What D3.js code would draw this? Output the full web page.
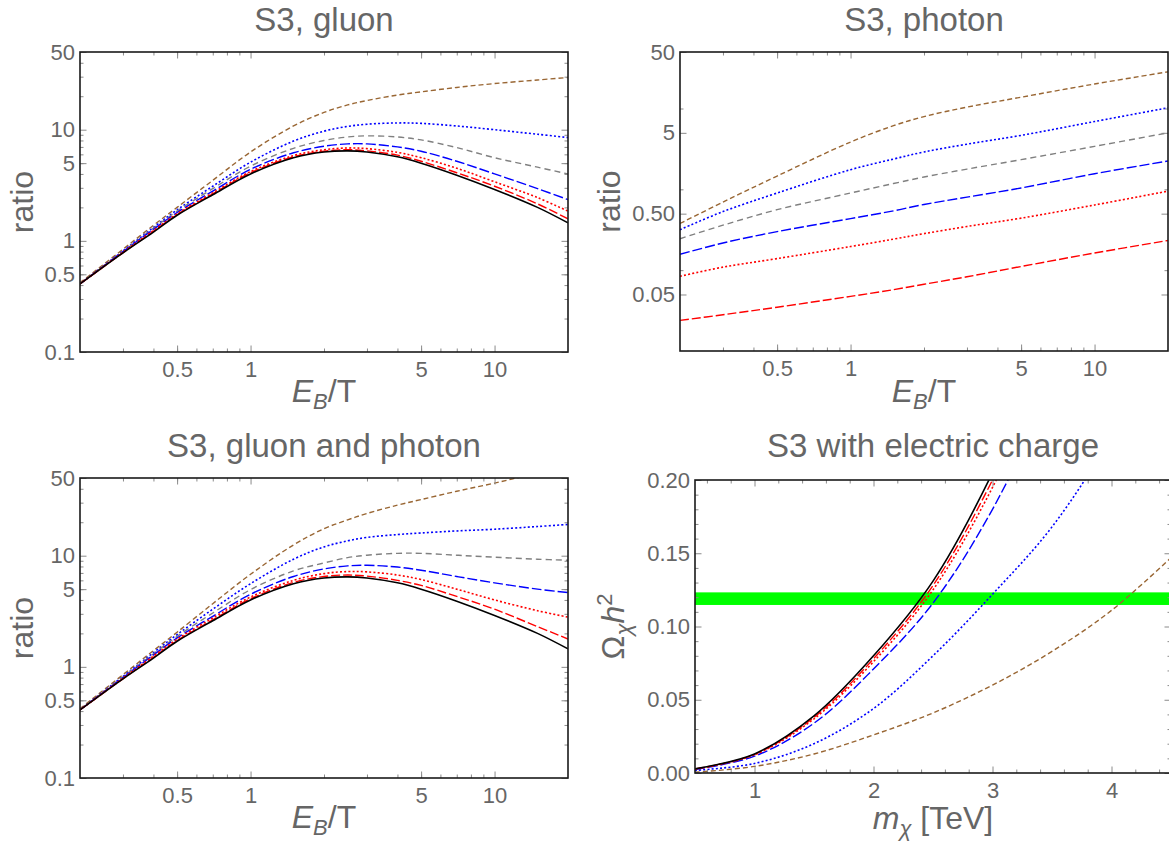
<!doctype html>
<html lang="en">
  <head>
    <meta charset="utf-8">
    <title>S3 ratio plots</title>
    <style>
      body{margin:0;background:#fff;}
    </style>
  </head>
  <body>
    <script src="https://cdn.jsdelivr.net/npm/d3@7"></script>
    <script>

    // ---- data ----

    // E_B/T grid for the gluon panels
    var ebGrid = [0.2, 0.3, 0.4, 0.5, 0.7, 1, 1.5, 2, 2.5, 3, 4, 5, 7, 10, 15, 20];

    // S3, gluon
    var gluonBlack      = [0.41, 0.78, 1.2, 1.7, 2.6, 4.0, 5.6, 6.3, 6.45, 6.3, 5.7, 5.0, 3.9, 2.9, 2.0, 1.45];
    var gluonRedDashed  = [0.41, 0.78, 1.22, 1.72, 2.65, 4.1, 5.7, 6.4, 6.6, 6.45, 5.9, 5.2, 4.1, 3.1, 2.15, 1.58];
    var gluonRedDotted  = [0.41, 0.79, 1.24, 1.75, 2.7, 4.2, 5.85, 6.6, 6.85, 6.75, 6.25, 5.6, 4.5, 3.4, 2.45, 1.85];
    var gluonBlueDashed = [0.41, 0.8, 1.27, 1.8, 2.8, 4.4, 6.2, 7.1, 7.45, 7.45, 7.0, 6.4, 5.2, 4.0, 2.95, 2.35];
    var gluonGray       = [0.41, 0.8, 1.3, 1.85, 2.95, 4.7, 6.8, 8.0, 8.6, 8.8, 8.6, 8.1, 6.9, 5.6, 4.6, 4.0];
    var gluonBlueDotted = [0.41, 0.81, 1.32, 1.9, 3.1, 5.1, 7.9, 9.7, 10.7, 11.2, 11.5, 11.4, 10.8, 10.0, 9.1, 8.5];
    var gluonBrown      = [0.42, 0.84, 1.38, 2.0, 3.5, 6.3, 10.8, 14.3, 16.7, 18.3, 20.5, 21.9, 24.0, 26.0, 28.0, 29.5];

    // S3, gluon and photon
    var bothBlack      = [0.41, 0.78, 1.2, 1.7, 2.6, 4.0, 5.6, 6.3, 6.45, 6.3, 5.7, 5.0, 3.9, 2.9, 2.0, 1.45];
    var bothRedDashed  = [0.41, 0.78, 1.22, 1.72, 2.65, 4.1, 5.75, 6.5, 6.7, 6.55, 6.0, 5.4, 4.3, 3.3, 2.3, 1.78];
    var bothRedDotted  = [0.41, 0.79, 1.25, 1.77, 2.75, 4.25, 6.0, 6.9, 7.2, 7.15, 6.7, 6.1, 5.0, 4.0, 3.2, 2.8];
    var bothBlueDashed = [0.41, 0.8, 1.28, 1.82, 2.85, 4.5, 6.5, 7.6, 8.1, 8.2, 7.9, 7.4, 6.5, 5.7, 5.0, 4.66];
    var bothGray       = [0.41, 0.81, 1.31, 1.88, 3.05, 4.95, 7.3, 8.6, 9.6, 10.1, 10.5, 10.5, 10.1, 9.7, 9.3, 9.1];
    var bothBlueDotted = [0.41, 0.82, 1.34, 1.95, 3.3, 5.6, 9.3, 12.0, 13.6, 14.6, 15.5, 16.0, 16.7, 17.3, 18.3, 19.1];
    var bothBrown      = [0.42, 0.85, 1.4, 2.05, 3.7, 6.8, 12.5, 17.5, 21, 24, 28.5, 32, 38, 45, 55, 60];

    // S3, photon
    var photonGrid       = [0.2, 0.3, 0.5, 1, 1.5, 2, 3, 5, 10, 20];
    var photonRedDashed  = [0.0239, 0.0281, 0.0348, 0.0474, 0.0574, 0.067, 0.0828, 0.111, 0.163, 0.233];
    var photonRedDotted  = [0.084, 0.109, 0.139, 0.196, 0.242, 0.283, 0.347, 0.44, 0.64, 0.95];
    var photonBlueDashed = [0.157, 0.217, 0.30, 0.434, 0.542, 0.65, 0.80, 1.04, 1.56, 2.24];
    var photonGray       = [0.245, 0.36, 0.56, 0.90, 1.18, 1.42, 1.78, 2.33, 3.4, 5.0];
    var photonBlueDotted = [0.317, 0.53, 0.90, 1.75, 2.37, 2.9, 3.62, 4.65, 6.9, 10.2];
    var photonBrown      = [0.378, 0.695, 1.46, 3.85, 6.13, 7.94, 10.4, 13.8, 20.1, 28.4];

    // S3 with electric charge (relic density vs mass in TeV)
    var massGrid         = [0.5, 1, 1.5, 2, 2.5, 3, 3.5, 4, 4.5];
    var relicBlack       = [0.0028, 0.013, 0.039, 0.08, 0.131, 0.205, 0.3, 0.41, 0.54];
    var relicRedDashed   = [0.0027, 0.0127, 0.038, 0.078, 0.128, 0.2, 0.29, 0.40, 0.53];
    var relicRedDotted   = [0.0026, 0.0124, 0.037, 0.076, 0.125, 0.195, 0.285, 0.39, 0.52];
    var relicBlueDashed  = [0.0024, 0.0115, 0.034, 0.071, 0.116, 0.18, 0.265, 0.365, 0.48];
    var relicBlueDotted  = [0.0018, 0.0065, 0.02, 0.044, 0.08, 0.122, 0.168, 0.23, 0.31];
    var relicBrown       = [0.0005, 0.0045, 0.013, 0.026, 0.041, 0.06, 0.083, 0.111, 0.147];
    var relicBand        = [0.1147, 0.1233];

    // tick labels
    var ebTicks      = [0.5, 1, 5, 10];
    var ebTickLabels = ["0.5", "1", "5", "10"];
    var ratioTicks      = [0.1, 0.5, 1, 5, 10, 50];
    var ratioTickLabels = ["0.1", "0.5", "1", "5", "10", "50"];
    var photonTicks      = [0.05, 0.5, 5, 50];
    var photonTickLabels = ["0.05", "0.50", "5", "50"];
    var photonMinor      = [0.1, 1, 10];
    var massTicks      = [1, 2, 3, 4];
    var massTickLabels = ["1", "2", "3", "4"];
    var omegaTicks      = [0, 0.05, 0.1, 0.15, 0.2];
    var omegaTickLabels = ["0.00", "0.05", "0.10", "0.15", "0.20"];

    // ---- styles ----
    var styles = {
      black:      {color: "#000000", dash: null,      w: 1.6},
      redDashed:  {color: "#ff0000", dash: "9,3",     w: 1.4},
      redDotted:  {color: "#ff0000", dash: "2,2.2",   w: 1.6},
      blueDashed: {color: "#0000ff", dash: "10,3",    w: 1.4},
      gray:       {color: "#808080", dash: "6,4",     w: 1.4},
      blueDotted: {color: "#0000ff", dash: "2,2.2",   w: 1.6},
      brown:      {color: "#996633", dash: "5,3",     w: 1.4}
    };

    var font = "'Liberation Sans', Arial, sans-serif";
    var textGray = "#666666";

    var svg = d3.select("body")
      .append("svg")
      .attr("width", 1169)
      .attr("height", 853);

    var defs = svg.append("defs");

    function logMinor(domain) {
      var out = [];
      for (var k = -3; k <= 2; k++) {
        for (var m = 2; m <= 9; m++) {
          var v = +(m * Math.pow(10, k)).toPrecision(3);
          if (v > domain[0] * 1.001 && v < domain[1] * 0.999) out.push(v);
        }
      }
      return out;
    }

    function rangeMinor(lo, hi, step, majorStep) {
      var out = [];
      var n = Math.round((hi - lo) / step);
      for (var i = 0; i <= n; i++) {
        var v = +(lo + i * step).toFixed(4);
        var r = v / majorStep;
        if (Math.abs(r - Math.round(r)) > 1e-6) out.push(v);
      }
      return out;
    }

    function panel(p) {
      var w = p.right - p.left, h = p.bottom - p.top;
      var g = svg.append("g")
        .attr("transform", "translate(" + p.left + "," + p.top + ")");

      var x = (p.xLog ? d3.scaleLog() : d3.scaleLinear()).domain(p.xDomain).range([0, w]);
      var y = (p.yLog ? d3.scaleLog() : d3.scaleLinear()).domain(p.yDomain).range([h, 0]);

      defs.append("clipPath").attr("id", p.id)
        .append("rect").attr("width", w).attr("height", h);

      var plot = g.append("g").attr("clip-path", "url(#" + p.id + ")");

      if (p.band) {
        plot.append("rect")
          .attr("x", 0)
          .attr("y", y(p.band[1]))
          .attr("width", w)
          .attr("height", y(p.band[0]) - y(p.band[1]))
          .attr("fill", "#00ff00");
      }

      var line = d3.line()
        .x(function(d){ return x(d[0]); })
        .y(function(d){ return y(d[1]); })
        .curve(d3.curveCatmullRom.alpha(0.5));

      p.series.forEach(function(s){
        var st = styles[s.style];
        plot.append("path")
          .datum(d3.zip(p.grid, s.values))
          .attr("d", line)
          .attr("fill", "none")
          .attr("stroke", st.color)
          .attr("stroke-width", st.w)
          .attr("stroke-dasharray", st.dash);
      });

      // ticks on all four sides, pointing inward
      function ax(fn, scale, values, size, labels, pad, tr) {
        var a = fn(scale).tickValues(values).tickSize(-size).tickPadding(pad)
          .tickFormat(function(d, i){ return labels ? labels[i] : ""; });
        var ga = g.append("g").attr("transform", tr || null).call(a);
        ga.select(".domain").remove();
        ga.selectAll("line").attr("stroke", "#8a8a8a").attr("stroke-width", 1);
        ga.attr("font-family", font).attr("font-size", 22);
        ga.selectAll("text").attr("fill", textGray);
        return ga;
      }

      var xb = "translate(0," + h + ")", yr = "translate(" + w + ",0)";
      ax(d3.axisBottom, x, p.xMinor, 3.5, null, 0, xb);
      ax(d3.axisBottom, x, p.xTicks, 6.5, p.xLabels, 9.5, xb);
      ax(d3.axisTop, x, p.xMinor, 3.5, null, 0);
      ax(d3.axisTop, x, p.xTicks, 6.5, null, 0);
      ax(d3.axisLeft, y, p.yMinor, 3.5, null, 0);
      ax(d3.axisLeft, y, p.yTicks, 6.5, p.yLabels, 5);
      ax(d3.axisRight, y, p.yMinor, 3.5, null, 0, yr);
      ax(d3.axisRight, y, p.yTicks, 6.5, null, 0, yr);

      g.append("rect")
        .attr("width", w)
        .attr("height", h)
        .attr("fill", "none")
        .attr("stroke", "#1a1a1a")
        .attr("stroke-width", 1.6);

      // title
      svg.append("text")
        .attr("x", p.left + w / 2)
        .attr("y", p.titleY)
        .attr("text-anchor", "middle")
        .style("font-family", font)
        .style("font-size", "33px")
        .attr("fill", textGray)
        .text(p.title);

      // x label
      var xl = svg.append("text")
        .attr("x", p.left + w / 2)
        .attr("y", p.xLabelY)
        .attr("text-anchor", "middle")
        .style("font-family", font)
        .style("font-size", "32px")
        .attr("fill", textGray);
      p.xLabel(xl);

      // y label
      var yl = svg.append("text")
        .attr("transform", "translate(" + p.yLabelX + "," + (p.top + h / 2) + ") rotate(-90)")
        .attr("text-anchor", "middle")
        .style("font-family", font)
        .style("font-size", "32px")
        .attr("fill", textGray);
      p.yLabel(yl);
    }

    function ebLabel(t) {
      t.append("tspan").style("font-style", "italic").text("E");
      t.append("tspan").style("font-style", "italic").style("font-size", "22px").attr("dy", "7px").text("B");
      t.append("tspan").attr("dy", "-7px").text("/T");
    }
    function ratioLabel(t) { t.text("ratio"); }
    function massLabel(t) {
      t.append("tspan").style("font-style", "italic").text("m");
      t.append("tspan").style("font-style", "italic").style("font-size", "22px").attr("dy", "7px").text("\u03C7");
      t.append("tspan").attr("dy", "-7px").text(" [TeV]");
    }
    function omegaLabel(t) {
      t.append("tspan").text("\u03A9");
      t.append("tspan").style("font-style", "italic").style("font-size", "22px").attr("dy", "7px").text("\u03C7");
      t.append("tspan").style("font-style", "italic").attr("dy", "-7px").text("h");
      t.append("tspan").style("font-size", "22px").attr("dy", "-12px").text("2");
    }

    var ebMinor = logMinor([0.2, 20]);

    panel({
      id: "clipGluon", left: 80, right: 568, top: 52, bottom: 352,
      xLog: true, yLog: true, xDomain: [0.2, 20], yDomain: [0.1, 50],
      grid: ebGrid,
      series: [
        {style: "brown", values: gluonBrown},
        {style: "blueDotted", values: gluonBlueDotted},
        {style: "gray", values: gluonGray},
        {style: "blueDashed", values: gluonBlueDashed},
        {style: "redDotted", values: gluonRedDotted},
        {style: "redDashed", values: gluonRedDashed},
        {style: "black", values: gluonBlack}
      ],
      xTicks: ebTicks, xLabels: ebTickLabels, xMinor: ebMinor,
      yTicks: ratioTicks, yLabels: ratioTickLabels, yMinor: logMinor([0.1, 50]),
      title: "S3, gluon", titleY: 31, xLabelY: 402, yLabelX: 33,
      xLabel: ebLabel, yLabel: ratioLabel
    });

    panel({
      id: "clipPhoton", left: 680, right: 1168, top: 52, bottom: 351,
      xLog: true, yLog: true, xDomain: [0.2, 20], yDomain: [0.01, 50],
      grid: photonGrid,
      series: [
        {style: "brown", values: photonBrown},
        {style: "blueDotted", values: photonBlueDotted},
        {style: "gray", values: photonGray},
        {style: "blueDashed", values: photonBlueDashed},
        {style: "redDotted", values: photonRedDotted},
        {style: "redDashed", values: photonRedDashed}
      ],
      xTicks: ebTicks, xLabels: ebTickLabels, xMinor: ebMinor,
      yTicks: photonTicks, yLabels: photonTickLabels, yMinor: photonMinor,
      title: "S3, photon", titleY: 31, xLabelY: 402, yLabelX: 620,
      xLabel: ebLabel, yLabel: ratioLabel
    });

    panel({
      id: "clipBoth", left: 80, right: 568, top: 478, bottom: 778,
      xLog: true, yLog: true, xDomain: [0.2, 20], yDomain: [0.1, 50],
      grid: ebGrid,
      series: [
        {style: "brown", values: bothBrown},
        {style: "blueDotted", values: bothBlueDotted},
        {style: "gray", values: bothGray},
        {style: "blueDashed", values: bothBlueDashed},
        {style: "redDotted", values: bothRedDotted},
        {style: "redDashed", values: bothRedDashed},
        {style: "black", values: bothBlack}
      ],
      xTicks: ebTicks, xLabels: ebTickLabels, xMinor: ebMinor,
      yTicks: ratioTicks, yLabels: ratioTickLabels, yMinor: logMinor([0.1, 50]),
      title: "S3, gluon and photon", titleY: 457, xLabelY: 828, yLabelX: 33,
      xLabel: ebLabel, yLabel: ratioLabel
    });

    panel({
      id: "clipRelic", left: 695, right: 1171, top: 480, bottom: 773,
      xLog: false, yLog: false, xDomain: [0.5, 4.5], yDomain: [0, 0.2],
      grid: massGrid, band: relicBand,
      series: [
        {style: "brown", values: relicBrown},
        {style: "blueDotted", values: relicBlueDotted},
        {style: "blueDashed", values: relicBlueDashed},
        {style: "redDotted", values: relicRedDotted},
        {style: "redDashed", values: relicRedDashed},
        {style: "black", values: relicBlack}
      ],
      xTicks: massTicks, xLabels: massTickLabels, xMinor: rangeMinor(0.6, 4.4, 0.2, 1),
      yTicks: omegaTicks, yLabels: omegaTickLabels, yMinor: rangeMinor(0.01, 0.19, 0.01, 0.05),
      title: "S3 with electric charge", titleY: 457, xLabelY: 829, yLabelX: 624,
      xLabel: massLabel, yLabel: omegaLabel
    });

    </script>
  </body>
</html>
